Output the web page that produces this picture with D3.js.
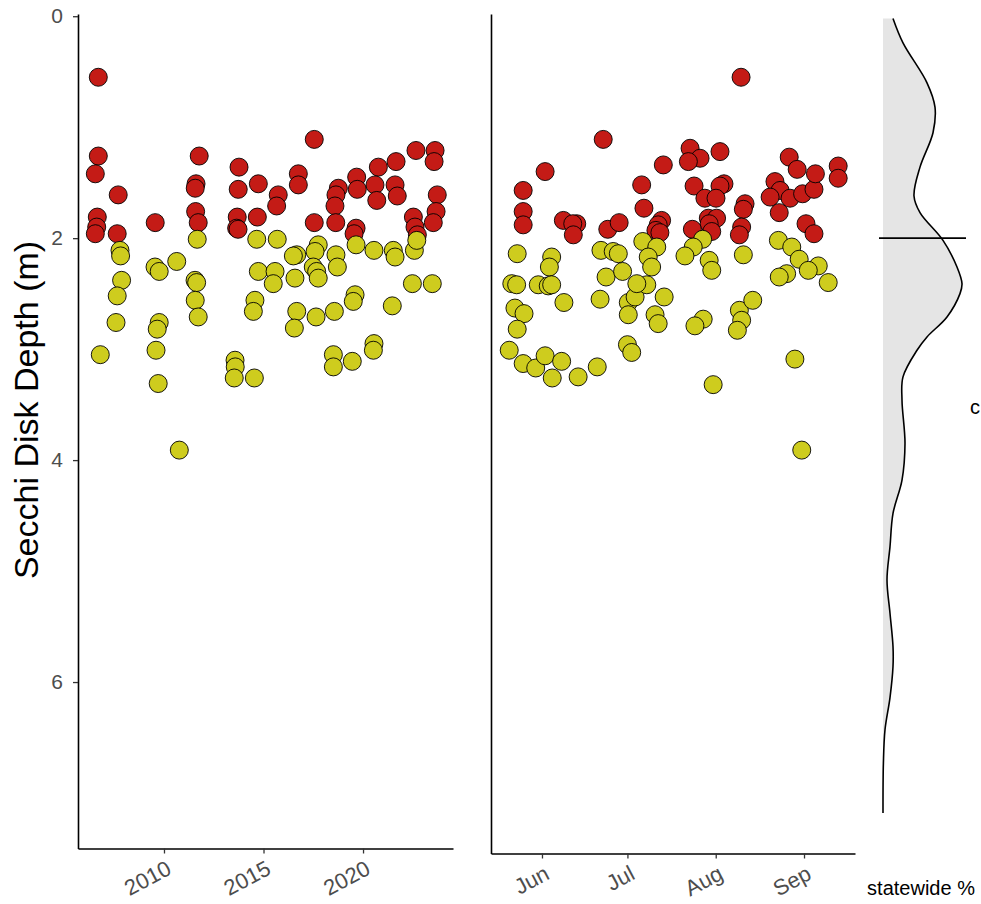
<!DOCTYPE html>
<html>
<head>
<meta charset="utf-8">
<script src="https://cdn.jsdelivr.net/npm/d3@7"></script>
<style>
  body { margin: 0; background: #fff; }
  svg { display: block; }
  text { font-family: "Liberation Sans", Arial, sans-serif; }
</style>
</head>
<body>
<svg id="chart" width="981" height="904"></svg>
<script>
// Secchi disk depth samples by year (decimal year, metres)
const trendYear = [
  2006.70, 2006.70, 2006.55, 2007.70, 2006.65, 2006.62, 2006.55, 2007.65, 2009.56, 2011.77,
  2011.61, 2011.57, 2011.59, 2011.72, 2013.77, 2013.73, 2014.74, 2013.68, 2013.65, 2013.72,
  2014.69, 2015.74, 2015.66, 2016.75, 2016.75, 2017.55, 2017.55, 2018.76, 2018.64, 2018.59,
  2018.63, 2019.68, 2019.71, 2020.77, 2021.66, 2020.60, 2020.69, 2021.61, 2021.72, 2022.66,
  2023.62, 2023.57, 2023.73, 2023.67, 2023.53, 2022.53, 2022.61, 2022.73, 2019.65, 2019.55,
  2011.67, 2007.79, 2007.82, 2009.55, 2009.76, 2010.64, 2014.66, 2014.74, 2007.87, 2011.56,
  2011.64, 2011.57, 2011.72, 2007.65, 2007.59, 2009.76, 2009.66, 2009.60, 2009.71, 2006.80,
  2010.77, 2013.57, 2013.58, 2013.53, 2014.54, 2014.57, 2014.49, 2015.69, 2016.67, 2016.50,
  2017.75, 2017.59, 2018.64, 2018.71, 2019.65, 2020.55, 2021.52, 2021.61, 2022.58, 2022.70,
  2015.58, 2015.49, 2016.58, 2017.50, 2017.67, 2017.75, 2022.48, 2023.48, 2016.67, 2016.55,
  2017.64, 2018.56, 2019.60, 2019.51, 2021.47, 2018.51, 2018.51, 2019.46, 2020.55, 2020.52
];
const trendDepth = [
  0.55, 1.26, 1.42, 1.61, 1.81, 1.90, 1.96, 1.96, 1.86, 1.26,
  1.51, 1.55, 1.76, 1.86, 1.36, 1.56, 1.51, 1.81, 1.91, 1.92,
  1.81, 1.61, 1.71, 1.42, 1.52, 1.11, 1.86, 1.55, 1.61, 1.71,
  1.86, 1.45, 1.56, 1.36, 1.31, 1.52, 1.66, 1.52, 1.62, 1.21,
  1.21, 1.31, 1.61, 1.76, 1.86, 1.81, 1.90, 1.97, 1.91, 1.96,
  2.01, 2.11, 2.16, 2.26, 2.30, 2.21, 2.01, 2.30, 2.38, 2.38,
  2.40, 2.56, 2.71, 2.52, 2.76, 2.76, 2.82, 3.01, 3.31, 3.05,
  3.91, 3.10, 3.16, 3.26, 3.26, 2.56, 2.66, 2.01, 2.15, 2.16,
  2.06, 2.12, 2.15, 2.26, 2.06, 2.11, 2.11, 2.17, 2.11, 2.02,
  2.30, 2.41, 2.36, 2.26, 2.30, 2.36, 2.41, 2.41, 2.66, 2.81,
  2.71, 2.66, 2.51, 2.57, 2.61, 3.05, 3.16, 3.11, 2.95, 3.01
];

// The same kind of samples placed by day of year across the open-water season
const seasonDay = [
  173.5, 194.6, 153.1, 145.4, 145.4, 145.4, 187.0, 187.8, 194.0, 192.8,
  192.0, 193.4, 159.5, 164.2, 162.8, 163.0, 175.1, 179.1, 221.9, 204.0,
  207.5, 203.4, 214.5, 205.4, 215.9, 214.5, 209.2, 213.1, 223.3, 222.7,
  210.4, 213.3, 210.7, 211.6, 204.8, 222.1, 221.3, 238.8, 241.6, 233.8,
  235.6, 232.1, 239.1, 243.5, 247.5, 248.0, 235.3, 256.0, 256.0, 244.7,
  247.5,
  143.3, 155.4, 154.6, 172.7, 177.0, 178.8, 187.4, 192.3, 189.3, 190.5,
  174.5, 180.3, 141.4, 143.1, 150.7, 154.2, 155.4, 159.7, 142.5, 145.7,
  143.3, 140.5, 145.4, 149.8, 153.1, 158.9, 155.6, 164.7, 171.4, 172.4,
  182.3, 182.3, 184.7, 188.8, 185.3, 191.7, 192.8, 194.9, 182.0, 183.5,
  208.4, 205.1, 202.2, 210.7, 211.6, 222.7, 235.0, 239.7, 242.3, 249.0,
  245.5, 237.9, 235.3, 252.5, 208.6, 205.7, 221.3, 226.0, 222.1, 220.6,
  212.1, 240.8, 243.2
];
const seasonDepth = [
  1.11, 1.34, 1.40, 1.57, 1.76, 1.88, 1.52, 1.73, 1.84, 1.88,
  1.93, 1.95, 1.84, 1.87, 1.87, 1.97, 1.92, 1.86, 0.55, 1.19,
  1.28, 1.31, 1.22, 1.53, 1.51, 1.53, 1.64, 1.64, 1.69, 1.74,
  1.82, 1.82, 1.87, 1.94, 1.92, 1.90, 1.97, 1.27, 1.38, 1.49,
  1.57, 1.63, 1.64, 1.60, 1.56, 1.42, 1.77, 1.35, 1.46, 1.87,
  1.96,
  2.14, 2.17, 2.26, 2.11, 2.12, 2.14, 2.03, 2.08, 2.17, 2.26,
  2.35, 2.30, 2.41, 2.42, 2.42, 2.43, 2.42, 2.58, 2.63, 2.68,
  2.82, 3.01, 3.13, 3.17, 3.06, 3.11, 3.26, 3.25, 3.16, 2.55,
  2.58, 2.69, 2.53, 2.42, 2.41, 2.69, 2.77, 2.53, 2.96, 3.03,
  2.01, 2.08, 2.16, 2.20, 2.29, 2.15, 2.02, 2.08, 2.19, 2.25,
  2.29, 2.32, 2.35, 2.40, 2.73, 2.79, 2.65, 2.56, 2.74, 2.83,
  3.32, 3.09, 3.91
];

// Statewide distribution of Secchi depth (share of lakes at each depth)
const densityDepth = [
  0.02, 0.24, 0.60, 0.82, 1.05, 1.36, 1.62, 1.77, 2.02, 2.26,
  2.41, 2.50, 2.71, 2.89, 3.01, 3.25, 3.46, 3.85, 4.18, 4.48,
  4.78, 5.08, 5.38, 5.68, 5.86, 6.14, 6.43, 6.73, 7.18
];
const densityShare = [
  0.050, 0.100, 0.220, 0.260, 0.250, 0.185, 0.155, 0.185, 0.300, 0.370,
  0.395, 0.385, 0.320, 0.220, 0.170, 0.100, 0.095, 0.110, 0.095, 0.050,
  0.035, 0.020, 0.035, 0.050, 0.050, 0.035, 0.010, 0.002, 0.000
];
const statewideMedian = 2.0;

const depthTicks = [0, 2, 4, 6];
const yearTicks = [2010, 2015, 2020];
const monthTicks = ["2023-06-01", "2023-07-01", "2023-08-01", "2023-09-01"];
const clarityThreshold = 2;
const shallowColor = "#C41B16";
const deepColor = "#CECC1E";

const svg = d3.select("#chart");
const tickGrey = "#4D4D4D";

// Depth axis runs downward from the surface
const y = d3.scaleLinear().domain([-0.02, 7.5]).range([14, 848.5]);
const ySeason = d3.scaleLinear().domain([-0.02, 7.545]).range([14, 853.5]);

const xYear = d3.scaleLinear().domain([2005.68, 2024.52]).range([78, 453]);
const dayDate = d => new Date(Date.UTC(2023, 0, 1) + (d - 1) * 864e5);
const xDay = d3.scaleUtc().domain([dayDate(134.1), dayDate(261.9)]).range([491, 855]);
const xShare = d3.scaleLinear().domain([0, 0.5]).range([883, 983]);

function styleAxis(g) {
  g.select(".domain").attr("stroke", "#000").attr("stroke-width", 1.6);
  g.selectAll(".tick line").attr("stroke", "#333").attr("stroke-width", 1.3);
  g.selectAll(".tick text").attr("fill", tickGrey).attr("font-size", 21);
}

function rotateLabels(g) {
  g.selectAll(".tick text")
    .attr("text-anchor", "end")
    .attr("dy", "0.71em")
    .attr("x", 0).attr("y", 0)
    .attr("font-size", 22)
    .attr("transform", "translate(1,11) rotate(-28)");
}

// Left panel: depth by year
const gLeft = svg.append("g");
gLeft.append("g")
  .attr("transform", "translate(78,0)")
  .call(d3.axisLeft(y).tickValues(depthTicks).tickSize(5).tickPadding(10).tickSizeOuter(0))
  .call(styleAxis);
gLeft.append("g")
  .attr("transform", "translate(0,848.5)")
  .call(d3.axisBottom(xYear).tickValues(yearTicks).tickFormat(d3.format("d")).tickSize(5).tickSizeOuter(0))
  .call(styleAxis).call(rotateLabels);

const trendPts = trendYear.map((t, i) => ({ t, d: trendDepth[i] }));
gLeft.append("g").selectAll("circle").data(trendPts).join("circle")
  .attr("cx", p => xYear(p.t))
  .attr("cy", p => y(p.d))
  .attr("r", 9)
  .attr("fill", p => p.d < clarityThreshold ? shallowColor : deepColor)
  .attr("stroke", "#000").attr("stroke-width", 0.9);

// Middle panel: depth by time of season
const gMid = svg.append("g");
gMid.append("g")
  .attr("transform", "translate(491,0)")
  .call(d3.axisLeft(ySeason).tickValues([]).tickSizeOuter(0))
  .call(styleAxis);
gMid.append("g")
  .attr("transform", "translate(0,853.5)")
  .call(d3.axisBottom(xDay).tickValues(monthTicks.map(s => new Date(s + "T00:00:00Z")))
    .tickFormat(d3.utcFormat("%b")).tickSize(5).tickSizeOuter(0))
  .call(styleAxis).call(rotateLabels);

const seasonPts = seasonDay.map((t, i) => ({ t, d: seasonDepth[i] }));
gMid.append("g").selectAll("circle").data(seasonPts).join("circle")
  .attr("cx", p => xDay(dayDate(p.t)))
  .attr("cy", p => ySeason(p.d))
  .attr("r", 9)
  .attr("fill", p => p.d < clarityThreshold ? shallowColor : deepColor)
  .attr("stroke", "#000").attr("stroke-width", 0.9);

// Right panel: statewide distribution with the median marked
const gRight = svg.append("g");
const dens = densityDepth.map((d, i) => ({ d, s: densityShare[i] }));
gRight.append("path").datum(dens)
  .attr("fill", "#E5E5E5")
  .attr("d", d3.area().y(p => y(p.d)).x0(xShare(0)).x1(p => xShare(p.s)).curve(d3.curveCatmullRom));
gRight.append("path").datum(dens)
  .attr("fill", "none").attr("stroke", "#000").attr("stroke-width", 1.6)
  .attr("d", d3.line().y(p => y(p.d)).x(p => xShare(p.s)).curve(d3.curveCatmullRom));
gRight.append("line")
  .attr("x1", 879).attr("x2", 966)
  .attr("y1", y(statewideMedian)).attr("y2", y(statewideMedian))
  .attr("stroke", "#000").attr("stroke-width", 1.6);

gRight.append("text")
  .attr("x", 921).attr("y", 895)
  .attr("text-anchor", "middle")
  .attr("font-size", 20).attr("fill", "#000")
  .text("statewide %");

// Small marker letter at the right edge
gRight.append("text")
  .attr("x", 970).attr("y", 414)
  .attr("font-size", 20).attr("fill", "#000")
  .text("c");

// Y axis title
svg.append("text")
  .attr("transform", "translate(38,410) rotate(-90)")
  .attr("text-anchor", "middle")
  .attr("font-size", 34).attr("fill", "#000")
  .text("Secchi Disk Depth (m)");
</script>
</body>
</html>
